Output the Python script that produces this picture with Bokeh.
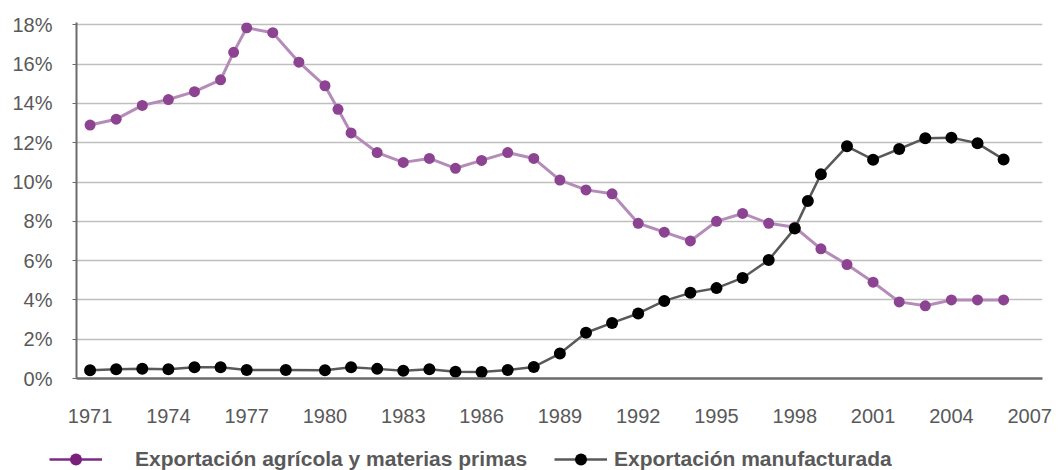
from bokeh.plotting import figure
from bokeh.layouts import column, row
from bokeh.models import FixedTicker, PrintfTickFormatter, Legend, LegendItem, Range1d
from bokeh.embed import file_html
from bokeh.resources import INLINE

# ---- data ----
agri_years = [1971, 1972, 1973, 1974, 1975, 1976, 1976.5, 1977, 1978, 1979, 1980, 1980.5,
              1981, 1982, 1983, 1984, 1985, 1986, 1987, 1988, 1989, 1990, 1991, 1992,
              1993, 1994, 1995, 1996, 1997, 1998, 1999, 2000, 2001, 2002, 2003, 2004,
              2005, 2006]
agri_values = [12.9, 13.2, 13.9, 14.2, 14.6, 15.2, 16.6, 17.85, 17.6, 16.1, 14.9, 13.7,
               12.5, 11.5, 11.0, 11.2, 10.7, 11.1, 11.5, 11.2, 10.1, 9.6, 9.4, 7.9,
               7.45, 7.0, 8.0, 8.4, 7.9, 7.7, 6.6, 5.8, 4.9, 3.9, 3.7, 4.0,
               4.0, 4.0]

manu_years = [1971, 1972, 1973, 1974, 1975, 1976, 1977, 1978.5, 1980, 1981, 1982, 1983,
              1984, 1985, 1986, 1987, 1988, 1989, 1990, 1991, 1992, 1993, 1994, 1995,
              1996, 1997, 1998, 1998.5, 1999, 2000, 2001, 2002, 2003, 2004, 2005, 2006]
manu_values = [0.42, 0.47, 0.50, 0.47, 0.57, 0.57, 0.43, 0.43, 0.42, 0.57, 0.49, 0.40,
               0.47, 0.34, 0.33, 0.43, 0.59, 1.27, 2.33, 2.83, 3.31, 3.95, 4.36, 4.6,
               5.12, 6.03, 7.64, 9.04, 10.39, 11.82, 11.14, 11.68, 12.23, 12.26, 11.97, 11.15]

x_ticks = [1971, 1974, 1977, 1980, 1983, 1986, 1989, 1992, 1995, 1998, 2001, 2004, 2007]
y_ticks = [0, 2, 4, 6, 8, 10, 12, 14, 16, 18]

label_agri = "Exportación agrícola y materias primas"
label_manu = "Exportación manufacturada"

FONT = "Liberation Sans"
TXT = "#595959"
AXIS = "#6b6b6b"

# ---- main chart ----
p = figure(width=1058, height=431, output_backend="svg", toolbar_location=None,
           x_range=Range1d(1970.48, 2007.49), y_range=Range1d(0, 18.12),
           min_border_left=76, min_border_right=16, min_border_top=22, min_border_bottom=53)
p.outline_line_color = None
p.background_fill_color = "white"

p.xaxis.ticker = FixedTicker(ticks=x_ticks)
p.yaxis.ticker = FixedTicker(ticks=y_ticks)
p.yaxis.formatter = PrintfTickFormatter(format="%d%%")
for ax in (p.xaxis, p.yaxis):
    ax.major_label_text_font = FONT
    ax.major_label_text_font_size = "20px"
    ax.major_label_text_color = TXT
    ax.axis_line_color = AXIS
    ax.major_tick_line_color = AXIS
    ax.minor_tick_line_color = None
    ax.major_tick_in = 0
p.xaxis.axis_line_width = 2.5
p.xaxis.major_tick_out = 0
p.xaxis.major_label_standoff = 30
p.yaxis.axis_line_width = 2
p.yaxis.major_tick_out = 4
p.yaxis.major_tick_line_width = 1
p.yaxis.major_label_standoff = 20

p.xgrid.grid_line_color = None
p.ygrid.grid_line_color = "#bfbfbf"
p.ygrid.grid_line_width = 1.3

p.line(agri_years, agri_values, line_color="#b58cb9", line_width=3)
p.scatter(agri_years, agri_values, size=11, fill_color="#8c4391", line_color=None)
p.line(manu_years, manu_values, line_color="#595959", line_width=2.5)
p.scatter(manu_years, manu_values, size=12, fill_color="black", line_color=None)

# ---- legend strip (separate figure below the chart) ----
lg = figure(width=1058, height=39, output_backend="svg", toolbar_location=None,
            x_axis_type=None, y_axis_type=None, x_range=Range1d(0, 1), y_range=Range1d(0, 1),
            min_border=0, min_border_left=0, min_border_right=0,
            min_border_top=0, min_border_bottom=0)
lg.outline_line_color = None
lg.xgrid.grid_line_color = None
lg.ygrid.grid_line_color = None

# legend-only renderers: their one point lies outside the strip's visible range
lg_l1 = lg.line([-10, -9], [-10, -10], line_color="#7b2a85", line_width=2.5)
lg_d1 = lg.scatter([-10], [-10], size=12, fill_color="#7a1f7c", line_color=None)
lg_l2 = lg.line([-10, -9], [-10, -10], line_color="#595959", line_width=2.5)
lg_d2 = lg.scatter([-10], [-10], size=12, fill_color="black", line_color=None)

common = dict(orientation="horizontal", glyph_width=53, glyph_height=30,
              padding=0, margin=0, spacing=0, border_line_color=None,
              background_fill_alpha=0, label_text_font=FONT, label_text_font_size="21px",
              label_text_font_style="bold", label_text_color=TXT)
leg1 = Legend(items=[LegendItem(label=label_agri, renderers=[lg_l1, lg_d1])],
              location=(49, -3.5), label_standoff=33, **common)
leg2 = Legend(items=[LegendItem(label=label_manu, renderers=[lg_l2, lg_d2])],
              location=(554, -3.5), label_standoff=7, **common)
lg.add_layout(leg1)
lg.add_layout(leg2)

page = column(p, row(lg, spacing=0), spacing=0)
open("out.html", "w").write(file_html(page, INLINE))
